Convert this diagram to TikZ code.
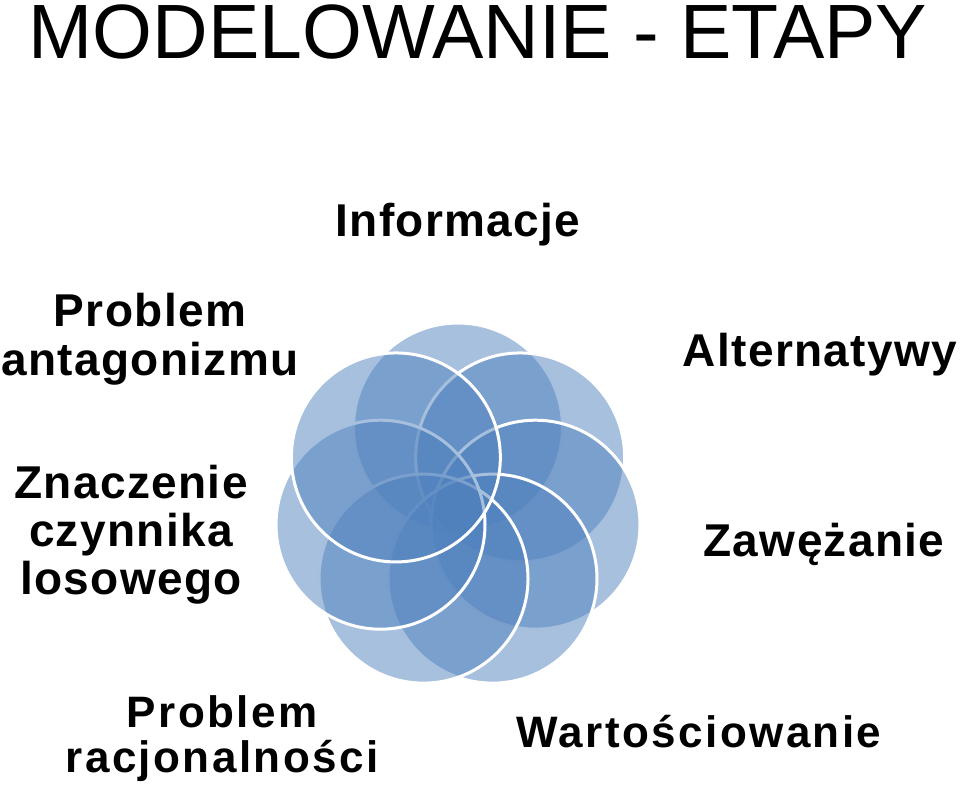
\documentclass[tikz,border=0pt]{standalone}
\usepackage{fontspec}
\setmainfont{Liberation Sans}
\newfontfamily\lblfont[LetterSpace=3.0]{Liberation Sans}
\newfontfamily\lowfont[LetterSpace=5.5]{Liberation Sans}
\usetikzlibrary{calc}
\definecolor{petalblue}{RGB}{79,129,189}
\begin{document}
\begin{tikzpicture}[
    x=1pt, y=1pt,
    petal/.style = {circle, minimum size=209pt, inner sep=0pt, fill=petalblue,
                    fill opacity=0.5, draw=white, draw opacity=1, line width=3pt},
    lbl/.style = {font=\lblfont\bfseries\fontsize{46}{48}\selectfont, align=center,
                  inner sep=0pt, anchor=base},
    lbllow/.style = {lbl, font=\lowfont\bfseries\fontsize{44}{45}\selectfont}
]
    \useasboundingbox (0,0) rectangle (960,788);
    \node[font=\fontsize{77}{80}\selectfont, inner sep=0pt, anchor=base] (title) at (478,729) {MODELOWANIE - ETAPY};

    \coordinate (hub) at (458,281);
    \foreach \k in {0,...,6}
        \node[petal] (p\k) at ($(hub)+({90-\k*360/7}:79.5)$) {};

    \node[lbl] (informacje) at (458,551) {Informacje};
    \node[lbl] (alternatywy) at (820,421) {Alternatywy};
    \node[lbl] (zawezanie) at (824,232) {Zawężanie};
    \node[lbllow] (wartosciowanie) at (699,41) {Wartościowanie};
    \node[lbllow] (racjonalnosc) at (222,16) {Problem\\racjonalności};
    \node[lbl] (losowy) at (131,194) {Znaczenie\\czynnika\\losowego};
    \node[lbl] (antagonizm) at (150,413) {Problem\\antagonizmu};
\end{tikzpicture}
\end{document}
